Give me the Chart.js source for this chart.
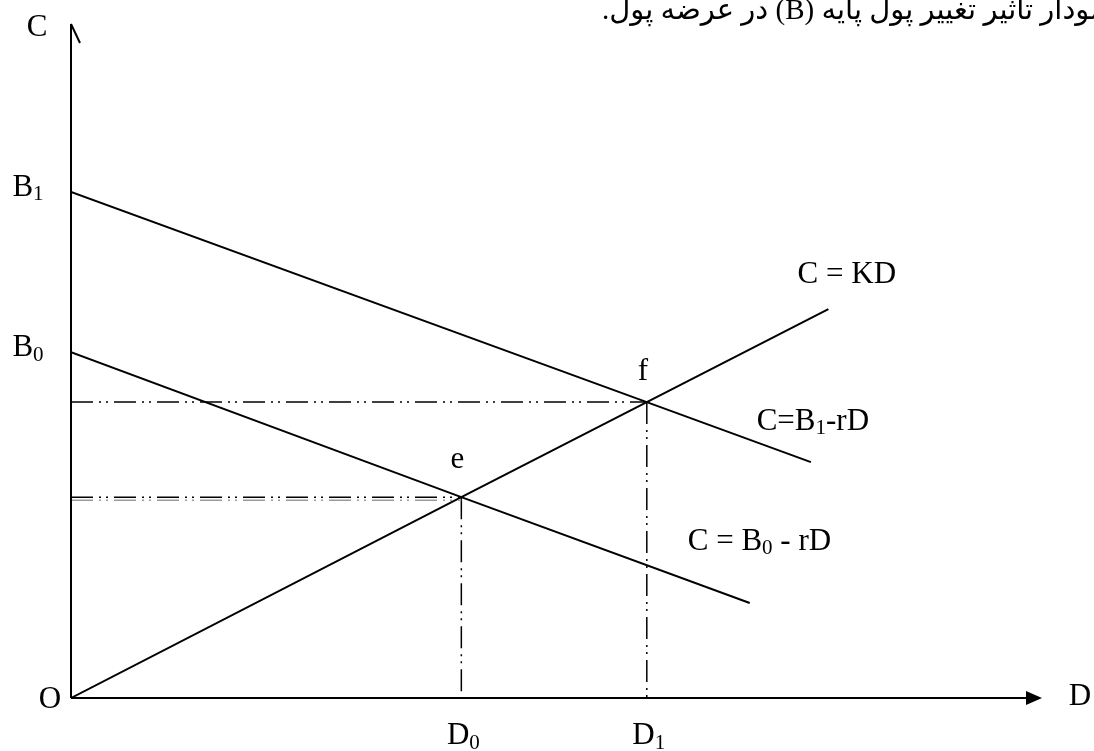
<!DOCTYPE html>
<html>
<head>
<meta charset="utf-8">
<script src="https://cdn.jsdelivr.net/npm/chart.js@4"></script>
<style>
  html, body { margin: 0; padding: 0; background: #fff; }
  canvas { display: block; }
</style>
</head>
<body>
<canvas id="moneyChart" width="1094" height="751"></canvas>
<script>
// values (D on x, C on y, both 0..100)
const kdLine = [[0, 0], [40.2, 29.8], [59.3, 43.9], [78.0, 57.7]]
const b1Line = [[0, 75.1], [59.3, 43.9], [76.2, 35.0]]
const b0Line = [[0, 51.3], [40.2, 29.8], [69.9, 14.1]]

const eqNames = ['e', 'f']
const eqD = [40.2, 59.3]
const eqC = [29.8, 43.9]
const dLabels = [['D', '0'], ['D', '1']]
const bLabels = [['B', '1'], ['B', '0']]
const bValues = [75.1, 51.3]

const title = 'نمودار تاثیر تغییر پول پایه (B) در عرضه پول.'

const FONT = "'Liberation Serif', 'Times New Roman', serif"
const dashDot = [22, 6, 2, 5, 2, 6]

const toPts = arr => arr.map(p => ({ x: p[0], y: p[1] }))

const solid = (data) => ({
  data: toPts(data), showLine: true, pointRadius: 0,
  borderColor: '#000', borderWidth: 2, tension: 0
})
const guide = (data) => ({
  data: toPts(data), showLine: true, pointRadius: 0,
  borderColor: '#000', borderWidth: 1.5, borderDash: dashDot
})

const datasets = [solid(kdLine), solid(b1Line), solid(b0Line)]
eqD.forEach((d, i) => {
  datasets.push(guide([[0, eqC[i]], [d, eqC[i]]]))
  datasets.push(guide([[d, eqC[i]], [d, 0]]))
})

// text with subscripts: parts = [[text, isSub], ...]
function rich(ctx, parts, x, y, align) {
  const big = '31px ' + FONT, small = '21px ' + FONT
  let w = 0
  parts.forEach(p => { ctx.font = p[1] ? small : big; w += ctx.measureText(p[0]).width })
  let cx = align === 'center' ? x - w / 2 : (align === 'right' ? x - w : x)
  ctx.textAlign = 'left'
  ctx.textBaseline = 'middle'
  parts.forEach(p => {
    ctx.font = p[1] ? small : big
    ctx.fillText(p[0], cx, p[1] ? y + 7 : y)
    cx += ctx.measureText(p[0]).width
  })
}

const decor = {
  id: 'decor',
  afterDatasetsDraw(chart) {
    const { ctx } = chart
    const sx = chart.scales.x, sy = chart.scales.y
    const X = v => sx.getPixelForValue(v), Y = v => sy.getPixelForValue(v)
    const x0 = X(0), y0 = Y(0), xEnd = X(100), yTop = Y(100)
    ctx.save()
    ctx.fillStyle = '#000'
    ctx.strokeStyle = '#000'

    // faint second stroke under the e guide
    ctx.save()
    ctx.strokeStyle = '#9a9a9a'
    ctx.lineWidth = 1.5
    ctx.setLineDash(dashDot)
    ctx.beginPath()
    ctx.moveTo(x0, Y(eqC[0]) + 3)
    ctx.lineTo(X(eqD[0]), Y(eqC[0]) + 3)
    ctx.stroke()
    ctx.restore()

    // axes
    ctx.lineWidth = 2
    ctx.setLineDash([])
    ctx.beginPath()
    ctx.moveTo(x0, y0); ctx.lineTo(x0, yTop)
    ctx.moveTo(x0, yTop); ctx.lineTo(x0 + 9, yTop + 19)
    ctx.moveTo(x0, y0); ctx.lineTo(xEnd - 12, y0)
    ctx.stroke()
    ctx.beginPath()
    ctx.moveTo(xEnd, y0); ctx.lineTo(xEnd - 16, y0 - 7); ctx.lineTo(xEnd - 16, y0 + 7)
    ctx.closePath(); ctx.fill()

    // axis letters
    rich(ctx, [['C', false]], x0 - 34, yTop + 4, 'center')
    rich(ctx, [['O', false]], x0 - 21, y0 + 2, 'center')
    rich(ctx, [['D', false]], xEnd + 38, y0 - 1, 'center')

    bLabels.forEach((b, i) => rich(ctx, [[b[0], false], [b[1], true]], x0 - 43, Y(bValues[i]) - 4, 'center'))
    dLabels.forEach((d, i) => rich(ctx, [[d[0], false], [d[1], true]], X(eqD[i]) + 2, y0 + 38, 'center'))

    eqNames.forEach((n, i) => rich(ctx, [[n, false]], X(eqD[i]) - 4, Y(eqC[i]) - (i === 0 ? 37 : 30), 'center'))

    rich(ctx, [['C = KD', false]], X(79.9), Y(62.8), 'center')
    rich(ctx, [['C=B', false], ['1', true], ['-rD', false]], X(76.4), Y(41.0), 'center')
    rich(ctx, [['C = B', false], ['0', true], [' - rD', false]], X(70.9), Y(23.2), 'center')

    // caption, running off the right edge like the source
    ctx.direction = 'rtl'
    ctx.font = "29px 'Liberation Serif', 'DejaVu Sans', serif"
    ctx.textAlign = 'left'
    ctx.textBaseline = 'alphabetic'
    ctx.fillText(title, 602, 19)

    ctx.restore()
  }
}

new Chart(document.getElementById('moneyChart'), {
  type: 'scatter',
  data: { datasets },
  options: {
    responsive: false,
    animation: false,
    devicePixelRatio: 1,
    layout: { padding: { left: 71, right: 52, top: 24, bottom: 53 } },
    plugins: { legend: { display: false }, tooltip: { enabled: false } },
    scales: {
      x: { type: 'linear', min: 0, max: 100, display: false },
      y: { type: 'linear', min: 0, max: 100, display: false }
    }
  },
  plugins: [decor]
})
</script>
</body>
</html>
